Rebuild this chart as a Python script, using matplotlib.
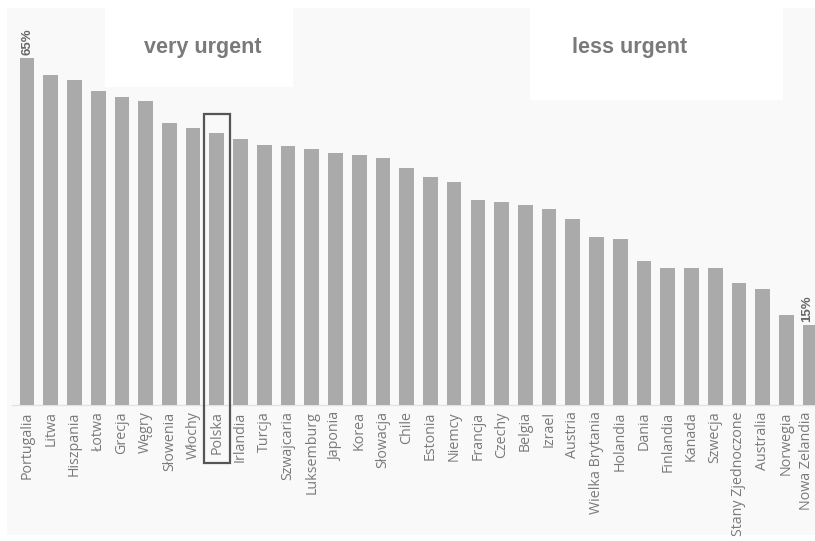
import matplotlib
matplotlib.use("Agg")
import matplotlib.pyplot as plt
from matplotlib.patches import Rectangle

countries = ["Portugalia", "Litwa", "Hiszpania", "Łotwa", "Grecja", "Węgry",
             "Słowenia", "Włochy", "Polska", "Irlandia", "Turcja", "Szwajcaria",
             "Luksemburg", "Japonia", "Korea", "Słowacja", "Chile", "Estonia",
             "Niemcy", "Francja", "Czechy", "Belgia", "Izrael", "Austria",
             "Wielka Brytania", "Holandia", "Dania", "Finlandia", "Kanada",
             "Szwecja", "Stany Zjednoczone", "Australia", "Norwegia",
             "Nowa Zelandia"]
values = [65, 61.9, 60.9, 58.8, 57.8, 56.9, 52.9, 51.9, 50.9, 49.9, 48.8, 48.6,
          48.0, 47.3, 46.9, 46.4, 44.4, 42.7, 41.8, 38.4, 38.0, 37.5, 36.7, 34.9,
          31.5, 31.1, 27.0, 25.7, 25.7, 25.7, 22.8, 21.7, 16.9, 15.0]
highlight = "Polska"

W, H = 815, 541
fig = plt.figure(figsize=(W / 100, H / 100), dpi=100, facecolor="white")

# light grey panel behind everything
fig.patches.append(Rectangle((7 / W, 6 / H), 1, 1 - 14 / H, transform=fig.transFigure,
                             facecolor="#f9f9f9", edgecolor="none", zorder=-5))
# white boxes behind the two headings
fig.patches.append(Rectangle((105 / W, 1 - 87 / H), 188 / W, 79 / H, transform=fig.transFigure,
                             facecolor="white", edgecolor="none", zorder=-4))
fig.patches.append(Rectangle((530 / W, 1 - 100 / H), 253 / W, 92 / H, transform=fig.transFigure,
                             facecolor="white", edgecolor="none", zorder=-4))

ax = fig.add_axes([0, 0, 1, 1])
ax.set_facecolor("none")
step = 23.73
ax.set_xlim(-27 / step, (W - 27) / step)
ppu = 5.334
ax.set_ylim(-(H - 405) / ppu, 405 / ppu)

x = list(range(len(countries)))
ax.bar(x, values, width=0.62, color="#aaaaaa", zorder=2)
ax.axhline(0, color="#e2e2e2", lw=1, xmin=12 / W, zorder=1)

last = len(values) - 1
for i, name in enumerate(countries):
    xi = i - 0.15 if i == last else i   # keep the last label inside the canvas
    ax.text(xi, -1.2, name, rotation=90, ha="center", va="top", fontsize=10.3,
            color="#7a7a7a", family="Open Sans")

ax.text(0, values[0] + 0.6, "%d%%" % round(values[0]), rotation=90, ha="center",
        va="bottom", fontsize=9.5, fontweight="bold", color="#666666",
        family="Liberation Sans")
ax.text(last - 0.12, values[last] + 0.5, "%d%%" % round(values[last]), rotation=90,
        ha="center", va="bottom", fontsize=9.5, fontweight="bold", color="#666666",
        family="Liberation Sans")

hi = countries.index(highlight)
ax.add_patch(Rectangle((hi - 0.55, -10.8), 1.1, 65.4, facecolor="none",
                       edgecolor="#555555", lw=1.6, zorder=3, clip_on=False))

fig.text(203 / W, 1 - 47 / H, "very urgent", ha="center", va="center", fontsize=15.5,
         fontweight="bold", color="#7a7a7a", family="Liberation Sans")
fig.text(630 / W, 1 - 47 / H, "less urgent", ha="center", va="center", fontsize=15.5,
         fontweight="bold", color="#7a7a7a", family="Liberation Sans")

for s in ax.spines.values():
    s.set_visible(False)
ax.set_xticks([])
ax.set_yticks([])

fig.savefig("out.png", dpi=100, facecolor="white")
